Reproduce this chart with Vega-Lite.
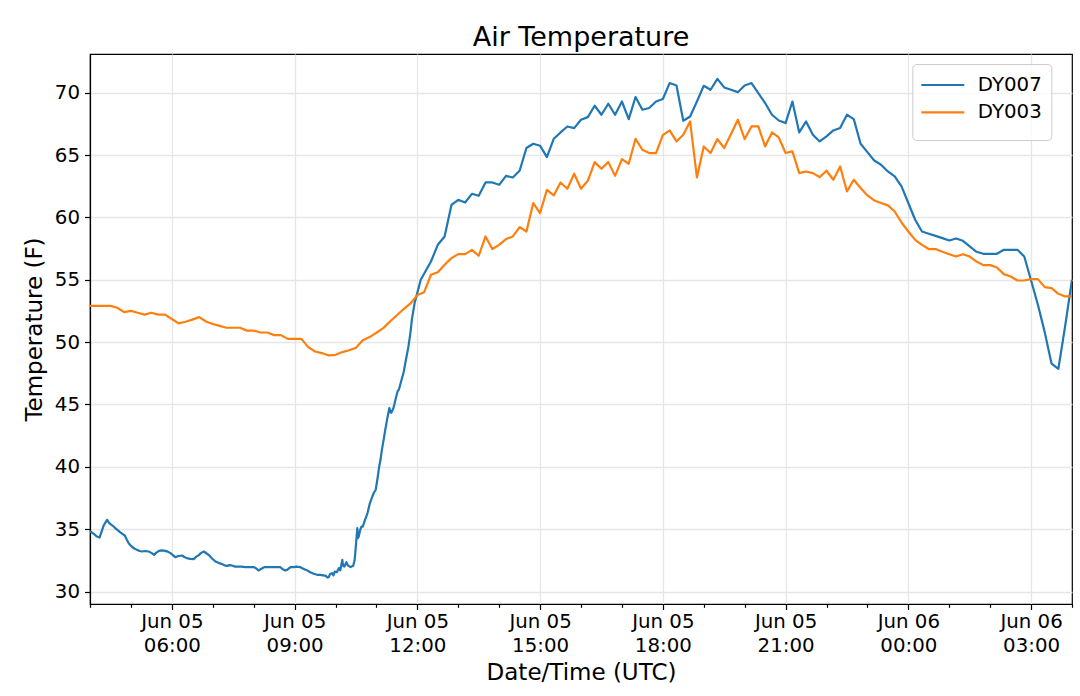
{
"$schema": "https://vega.github.io/schema/vega-lite/v6.json",
"width": 982, "height": 550,
"autosize": {"type": "none"},
"padding": {"left": 90, "top": 54, "right": 8, "bottom": 92},
"background": "white",
"title": {"text": "Air Temperature", "fontSize": 27, "fontWeight": "normal", "font": "DejaVu Sans", "color": "#000000", "anchor": "middle", "frame": "group", "baseline": "bottom", "offset": 3, "dy": 28},
"data": {"values": [
{"time":"2019-06-05T04:00:00Z","station":"DY007","temp":34.85},
{"time":"2019-06-05T04:06:00Z","station":"DY007","temp":34.6},
{"time":"2019-06-05T04:10:00Z","station":"DY007","temp":34.41},
{"time":"2019-06-05T04:14:00Z","station":"DY007","temp":34.33},
{"time":"2019-06-05T04:17:00Z","station":"DY007","temp":34.8},
{"time":"2019-06-05T04:20:00Z","station":"DY007","temp":35.29},
{"time":"2019-06-05T04:25:00Z","station":"DY007","temp":35.75},
{"time":"2019-06-05T04:28:00Z","station":"DY007","temp":35.5},
{"time":"2019-06-05T04:30:00Z","station":"DY007","temp":35.4},
{"time":"2019-06-05T04:34:00Z","station":"DY007","temp":35.25},
{"time":"2019-06-05T04:37:00Z","station":"DY007","temp":35.08},
{"time":"2019-06-05T04:41:00Z","station":"DY007","temp":34.9},
{"time":"2019-06-05T04:44:00Z","station":"DY007","temp":34.76},
{"time":"2019-06-05T04:48:00Z","station":"DY007","temp":34.6},
{"time":"2019-06-05T04:51:00Z","station":"DY007","temp":34.49},
{"time":"2019-06-05T04:54:00Z","station":"DY007","temp":34.15},
{"time":"2019-06-05T04:57:00Z","station":"DY007","temp":33.85},
{"time":"2019-06-05T05:01:00Z","station":"DY007","temp":33.61},
{"time":"2019-06-05T05:05:00Z","station":"DY007","temp":33.45},
{"time":"2019-06-05T05:09:00Z","station":"DY007","temp":33.34},
{"time":"2019-06-05T05:13:00Z","station":"DY007","temp":33.25},
{"time":"2019-06-05T05:16:00Z","station":"DY007","temp":33.21},
{"time":"2019-06-05T05:21:00Z","station":"DY007","temp":33.25},
{"time":"2019-06-05T05:26:00Z","station":"DY007","temp":33.21},
{"time":"2019-06-05T05:30:00Z","station":"DY007","temp":33.1},
{"time":"2019-06-05T05:34:00Z","station":"DY007","temp":32.94},
{"time":"2019-06-05T05:37:00Z","station":"DY007","temp":33.1},
{"time":"2019-06-05T05:41:00Z","station":"DY007","temp":33.26},
{"time":"2019-06-05T05:46:00Z","station":"DY007","temp":33.3},
{"time":"2019-06-05T05:50:00Z","station":"DY007","temp":33.26},
{"time":"2019-06-05T05:54:00Z","station":"DY007","temp":33.2},
{"time":"2019-06-05T05:58:00Z","station":"DY007","temp":33.08},
{"time":"2019-06-05T06:02:00Z","station":"DY007","temp":32.9},
{"time":"2019-06-05T06:05:00Z","station":"DY007","temp":32.76},
{"time":"2019-06-05T06:10:00Z","station":"DY007","temp":32.85},
{"time":"2019-06-05T06:15:00Z","station":"DY007","temp":32.89},
{"time":"2019-06-05T06:19:00Z","station":"DY007","temp":32.75},
{"time":"2019-06-05T06:22:00Z","station":"DY007","temp":32.68},
{"time":"2019-06-05T06:27:00Z","station":"DY007","temp":32.62},
{"time":"2019-06-05T06:32:00Z","station":"DY007","temp":32.6},
{"time":"2019-06-05T06:36:00Z","station":"DY007","temp":32.8},
{"time":"2019-06-05T06:40:00Z","station":"DY007","temp":32.94},
{"time":"2019-06-05T06:43:00Z","station":"DY007","temp":33.1},
{"time":"2019-06-05T06:47:00Z","station":"DY007","temp":33.21},
{"time":"2019-06-05T06:51:00Z","station":"DY007","temp":33.05},
{"time":"2019-06-05T06:55:00Z","station":"DY007","temp":32.89},
{"time":"2019-06-05T06:59:00Z","station":"DY007","temp":32.65},
{"time":"2019-06-05T07:04:00Z","station":"DY007","temp":32.41},
{"time":"2019-06-05T07:09:00Z","station":"DY007","temp":32.28},
{"time":"2019-06-05T07:14:00Z","station":"DY007","temp":32.2},
{"time":"2019-06-05T07:17:00Z","station":"DY007","temp":32.1},
{"time":"2019-06-05T07:21:00Z","station":"DY007","temp":32.06},
{"time":"2019-06-05T07:25:00Z","station":"DY007","temp":32.12},
{"time":"2019-06-05T07:28:00Z","station":"DY007","temp":32.09},
{"time":"2019-06-05T07:33:00Z","station":"DY007","temp":32.0},
{"time":"2019-06-05T07:38:00Z","station":"DY007","temp":32.0},
{"time":"2019-06-05T07:42:00Z","station":"DY007","temp":32.0},
{"time":"2019-06-05T07:48:00Z","station":"DY007","temp":31.96},
{"time":"2019-06-05T07:54:00Z","station":"DY007","temp":31.96},
{"time":"2019-06-05T08:00:00Z","station":"DY007","temp":31.96},
{"time":"2019-06-05T08:04:00Z","station":"DY007","temp":31.85},
{"time":"2019-06-05T08:07:00Z","station":"DY007","temp":31.69},
{"time":"2019-06-05T08:12:00Z","station":"DY007","temp":31.85},
{"time":"2019-06-05T08:16:00Z","station":"DY007","temp":31.96},
{"time":"2019-06-05T08:20:00Z","station":"DY007","temp":31.96},
{"time":"2019-06-05T08:27:00Z","station":"DY007","temp":31.96},
{"time":"2019-06-05T08:33:00Z","station":"DY007","temp":31.96},
{"time":"2019-06-05T08:39:00Z","station":"DY007","temp":31.96},
{"time":"2019-06-05T08:42:00Z","station":"DY007","temp":31.8},
{"time":"2019-06-05T08:46:00Z","station":"DY007","temp":31.69},
{"time":"2019-06-05T08:49:00Z","station":"DY007","temp":31.74},
{"time":"2019-06-05T08:54:00Z","station":"DY007","temp":31.96},
{"time":"2019-06-05T08:59:00Z","station":"DY007","temp":31.96},
{"time":"2019-06-05T09:03:00Z","station":"DY007","temp":32.0},
{"time":"2019-06-05T09:08:00Z","station":"DY007","temp":31.96},
{"time":"2019-06-05T09:12:00Z","station":"DY007","temp":31.85},
{"time":"2019-06-05T09:16:00Z","station":"DY007","temp":31.74},
{"time":"2019-06-05T09:19:00Z","station":"DY007","temp":31.68},
{"time":"2019-06-05T09:23:00Z","station":"DY007","temp":31.55},
{"time":"2019-06-05T09:28:00Z","station":"DY007","temp":31.42},
{"time":"2019-06-05T09:33:00Z","station":"DY007","temp":31.34},
{"time":"2019-06-05T09:38:00Z","station":"DY007","temp":31.34},
{"time":"2019-06-05T09:42:00Z","station":"DY007","temp":31.3},
{"time":"2019-06-05T09:46:00Z","station":"DY007","temp":31.25},
{"time":"2019-06-05T09:48:00Z","station":"DY007","temp":31.12},
{"time":"2019-06-05T09:50:00Z","station":"DY007","temp":31.15},
{"time":"2019-06-05T09:52:00Z","station":"DY007","temp":31.4},
{"time":"2019-06-05T09:55:00Z","station":"DY007","temp":31.47},
{"time":"2019-06-05T09:57:00Z","station":"DY007","temp":31.3},
{"time":"2019-06-05T09:59:00Z","station":"DY007","temp":31.6},
{"time":"2019-06-05T10:02:00Z","station":"DY007","temp":31.55},
{"time":"2019-06-05T10:05:00Z","station":"DY007","temp":31.88},
{"time":"2019-06-05T10:07:00Z","station":"DY007","temp":31.7},
{"time":"2019-06-05T10:10:00Z","station":"DY007","temp":32.54},
{"time":"2019-06-05T10:11:00Z","station":"DY007","temp":32.1},
{"time":"2019-06-05T10:13:00Z","station":"DY007","temp":32.0},
{"time":"2019-06-05T10:16:00Z","station":"DY007","temp":32.35},
{"time":"2019-06-05T10:18:00Z","station":"DY007","temp":32.1},
{"time":"2019-06-05T10:22:00Z","station":"DY007","temp":31.96},
{"time":"2019-06-05T10:26:00Z","station":"DY007","temp":32.06},
{"time":"2019-06-05T10:28:00Z","station":"DY007","temp":32.5},
{"time":"2019-06-05T10:29:00Z","station":"DY007","temp":33.08},
{"time":"2019-06-05T10:32:00Z","station":"DY007","temp":35.08},
{"time":"2019-06-05T10:33:00Z","station":"DY007","temp":34.28},
{"time":"2019-06-05T10:34:00Z","station":"DY007","temp":34.4},
{"time":"2019-06-05T10:36:00Z","station":"DY007","temp":34.9},
{"time":"2019-06-05T10:38:00Z","station":"DY007","temp":35.21},
{"time":"2019-06-05T10:40:00Z","station":"DY007","temp":35.2},
{"time":"2019-06-05T10:43:00Z","station":"DY007","temp":35.7},
{"time":"2019-06-05T10:47:00Z","station":"DY007","temp":36.29},
{"time":"2019-06-05T10:50:00Z","station":"DY007","temp":37.0},
{"time":"2019-06-05T10:54:00Z","station":"DY007","temp":37.62},
{"time":"2019-06-05T10:56:00Z","station":"DY007","temp":37.9},
{"time":"2019-06-05T10:59:00Z","station":"DY007","temp":38.16},
{"time":"2019-06-05T11:02:00Z","station":"DY007","temp":39.2},
{"time":"2019-06-05T11:04:00Z","station":"DY007","temp":40.0},
{"time":"2019-06-05T11:06:00Z","station":"DY007","temp":40.56},
{"time":"2019-06-05T11:08:00Z","station":"DY007","temp":41.36},
{"time":"2019-06-05T11:11:00Z","station":"DY007","temp":42.3},
{"time":"2019-06-05T11:13:00Z","station":"DY007","temp":42.97},
{"time":"2019-06-05T11:16:00Z","station":"DY007","temp":43.9},
{"time":"2019-06-05T11:19:00Z","station":"DY007","temp":44.71},
{"time":"2019-06-05T11:21:00Z","station":"DY007","temp":44.35},
{"time":"2019-06-05T11:22:00Z","station":"DY007","temp":44.35},
{"time":"2019-06-05T11:25:00Z","station":"DY007","temp":44.71},
{"time":"2019-06-05T11:28:00Z","station":"DY007","temp":45.4},
{"time":"2019-06-05T11:31:00Z","station":"DY007","temp":46.04},
{"time":"2019-06-05T11:33:00Z","station":"DY007","temp":46.2},
{"time":"2019-06-05T11:36:00Z","station":"DY007","temp":46.8},
{"time":"2019-06-05T11:40:00Z","station":"DY007","temp":47.6},
{"time":"2019-06-05T11:43:00Z","station":"DY007","temp":48.5},
{"time":"2019-06-05T11:47:00Z","station":"DY007","temp":49.65},
{"time":"2019-06-05T11:50:00Z","station":"DY007","temp":50.8},
{"time":"2019-06-05T11:52:00Z","station":"DY007","temp":51.8},
{"time":"2019-06-05T11:56:00Z","station":"DY007","temp":53.13},
{"time":"2019-06-05T12:05:00Z","station":"DY007","temp":55.0},
{"time":"2019-06-05T12:20:00Z","station":"DY007","temp":56.46},
{"time":"2019-06-05T12:30:00Z","station":"DY007","temp":57.8},
{"time":"2019-06-05T12:40:00Z","station":"DY007","temp":58.47},
{"time":"2019-06-05T12:50:00Z","station":"DY007","temp":61.0},
{"time":"2019-06-05T13:00:00Z","station":"DY007","temp":61.41},
{"time":"2019-06-05T13:10:00Z","station":"DY007","temp":61.19},
{"time":"2019-06-05T13:20:00Z","station":"DY007","temp":61.89},
{"time":"2019-06-05T13:30:00Z","station":"DY007","temp":61.73},
{"time":"2019-06-05T13:40:00Z","station":"DY007","temp":62.8},
{"time":"2019-06-05T13:50:00Z","station":"DY007","temp":62.8},
{"time":"2019-06-05T14:00:00Z","station":"DY007","temp":62.61},
{"time":"2019-06-05T14:10:00Z","station":"DY007","temp":63.33},
{"time":"2019-06-05T14:20:00Z","station":"DY007","temp":63.2},
{"time":"2019-06-05T14:30:00Z","station":"DY007","temp":63.74},
{"time":"2019-06-05T14:40:00Z","station":"DY007","temp":65.56},
{"time":"2019-06-05T14:50:00Z","station":"DY007","temp":65.9},
{"time":"2019-06-05T15:00:00Z","station":"DY007","temp":65.74},
{"time":"2019-06-05T15:10:00Z","station":"DY007","temp":64.83},
{"time":"2019-06-05T15:20:00Z","station":"DY007","temp":66.3},
{"time":"2019-06-05T15:30:00Z","station":"DY007","temp":66.81},
{"time":"2019-06-05T15:40:00Z","station":"DY007","temp":67.29},
{"time":"2019-06-05T15:50:00Z","station":"DY007","temp":67.16},
{"time":"2019-06-05T16:00:00Z","station":"DY007","temp":67.83},
{"time":"2019-06-05T16:10:00Z","station":"DY007","temp":68.04},
{"time":"2019-06-05T16:20:00Z","station":"DY007","temp":68.95},
{"time":"2019-06-05T16:30:00Z","station":"DY007","temp":68.23},
{"time":"2019-06-05T16:40:00Z","station":"DY007","temp":69.11},
{"time":"2019-06-05T16:50:00Z","station":"DY007","temp":68.23},
{"time":"2019-06-05T17:00:00Z","station":"DY007","temp":69.29},
{"time":"2019-06-05T17:10:00Z","station":"DY007","temp":67.88},
{"time":"2019-06-05T17:20:00Z","station":"DY007","temp":69.65},
{"time":"2019-06-05T17:30:00Z","station":"DY007","temp":68.63},
{"time":"2019-06-05T17:40:00Z","station":"DY007","temp":68.77},
{"time":"2019-06-05T17:50:00Z","station":"DY007","temp":69.29},
{"time":"2019-06-05T18:00:00Z","station":"DY007","temp":69.49},
{"time":"2019-06-05T18:10:00Z","station":"DY007","temp":70.77},
{"time":"2019-06-05T18:20:00Z","station":"DY007","temp":70.58},
{"time":"2019-06-05T18:30:00Z","station":"DY007","temp":67.75},
{"time":"2019-06-05T18:40:00Z","station":"DY007","temp":68.09},
{"time":"2019-06-05T18:50:00Z","station":"DY007","temp":69.29},
{"time":"2019-06-05T19:00:00Z","station":"DY007","temp":70.55},
{"time":"2019-06-05T19:10:00Z","station":"DY007","temp":70.23},
{"time":"2019-06-05T19:20:00Z","station":"DY007","temp":71.11},
{"time":"2019-06-05T19:30:00Z","station":"DY007","temp":70.42},
{"time":"2019-06-05T19:40:00Z","station":"DY007","temp":70.23},
{"time":"2019-06-05T19:50:00Z","station":"DY007","temp":70.04},
{"time":"2019-06-05T20:00:00Z","station":"DY007","temp":70.58},
{"time":"2019-06-05T20:10:00Z","station":"DY007","temp":70.77},
{"time":"2019-06-05T20:20:00Z","station":"DY007","temp":69.97},
{"time":"2019-06-05T20:30:00Z","station":"DY007","temp":69.17},
{"time":"2019-06-05T20:40:00Z","station":"DY007","temp":68.23},
{"time":"2019-06-05T20:50:00Z","station":"DY007","temp":67.77},
{"time":"2019-06-05T21:00:00Z","station":"DY007","temp":67.56},
{"time":"2019-06-05T21:10:00Z","station":"DY007","temp":69.29},
{"time":"2019-06-05T21:20:00Z","station":"DY007","temp":66.81},
{"time":"2019-06-05T21:30:00Z","station":"DY007","temp":67.69},
{"time":"2019-06-05T21:40:00Z","station":"DY007","temp":66.62},
{"time":"2019-06-05T21:50:00Z","station":"DY007","temp":66.09},
{"time":"2019-06-05T22:00:00Z","station":"DY007","temp":66.49},
{"time":"2019-06-05T22:10:00Z","station":"DY007","temp":66.97},
{"time":"2019-06-05T22:20:00Z","station":"DY007","temp":67.16},
{"time":"2019-06-05T22:30:00Z","station":"DY007","temp":68.23},
{"time":"2019-06-05T22:40:00Z","station":"DY007","temp":67.88},
{"time":"2019-06-05T22:50:00Z","station":"DY007","temp":65.9},
{"time":"2019-06-05T23:00:00Z","station":"DY007","temp":65.23},
{"time":"2019-06-05T23:10:00Z","station":"DY007","temp":64.56},
{"time":"2019-06-05T23:20:00Z","station":"DY007","temp":64.22},
{"time":"2019-06-05T23:30:00Z","station":"DY007","temp":63.68},
{"time":"2019-06-05T23:40:00Z","station":"DY007","temp":63.28},
{"time":"2019-06-05T23:50:00Z","station":"DY007","temp":62.48},
{"time":"2019-06-06T00:00:00Z","station":"DY007","temp":61.15},
{"time":"2019-06-06T00:10:00Z","station":"DY007","temp":59.81},
{"time":"2019-06-06T00:20:00Z","station":"DY007","temp":58.87},
{"time":"2019-06-06T00:30:00Z","station":"DY007","temp":58.69},
{"time":"2019-06-06T00:40:00Z","station":"DY007","temp":58.52},
{"time":"2019-06-06T00:50:00Z","station":"DY007","temp":58.34},
{"time":"2019-06-06T01:00:00Z","station":"DY007","temp":58.15},
{"time":"2019-06-06T01:10:00Z","station":"DY007","temp":58.31},
{"time":"2019-06-06T01:20:00Z","station":"DY007","temp":58.12},
{"time":"2019-06-06T01:30:00Z","station":"DY007","temp":57.67},
{"time":"2019-06-06T01:40:00Z","station":"DY007","temp":57.24},
{"time":"2019-06-06T01:50:00Z","station":"DY007","temp":57.08},
{"time":"2019-06-06T02:00:00Z","station":"DY007","temp":57.08},
{"time":"2019-06-06T02:10:00Z","station":"DY007","temp":57.08},
{"time":"2019-06-06T02:20:00Z","station":"DY007","temp":57.4},
{"time":"2019-06-06T02:30:00Z","station":"DY007","temp":57.4},
{"time":"2019-06-06T02:40:00Z","station":"DY007","temp":57.4},
{"time":"2019-06-06T02:50:00Z","station":"DY007","temp":56.86},
{"time":"2019-06-06T03:00:00Z","station":"DY007","temp":54.94},
{"time":"2019-06-06T03:10:00Z","station":"DY007","temp":53.0},
{"time":"2019-06-06T03:20:00Z","station":"DY007","temp":50.8},
{"time":"2019-06-06T03:30:00Z","station":"DY007","temp":48.27},
{"time":"2019-06-06T03:40:00Z","station":"DY007","temp":47.85},
{"time":"2019-06-06T03:50:00Z","station":"DY007","temp":51.3},
{"time":"2019-06-06T04:00:00Z","station":"DY007","temp":55.0},
{"time":"2019-06-05T04:00:00Z","station":"DY003","temp":52.9},
{"time":"2019-06-05T04:10:00Z","station":"DY003","temp":52.9},
{"time":"2019-06-05T04:20:00Z","station":"DY003","temp":52.9},
{"time":"2019-06-05T04:30:00Z","station":"DY003","temp":52.9},
{"time":"2019-06-05T04:40:00Z","station":"DY003","temp":52.75},
{"time":"2019-06-05T04:50:00Z","station":"DY003","temp":52.4},
{"time":"2019-06-05T05:00:00Z","station":"DY003","temp":52.5},
{"time":"2019-06-05T05:10:00Z","station":"DY003","temp":52.35},
{"time":"2019-06-05T05:20:00Z","station":"DY003","temp":52.2},
{"time":"2019-06-05T05:30:00Z","station":"DY003","temp":52.35},
{"time":"2019-06-05T05:40:00Z","station":"DY003","temp":52.2},
{"time":"2019-06-05T05:50:00Z","station":"DY003","temp":52.2},
{"time":"2019-06-05T06:00:00Z","station":"DY003","temp":51.85},
{"time":"2019-06-05T06:10:00Z","station":"DY003","temp":51.5},
{"time":"2019-06-05T06:20:00Z","station":"DY003","temp":51.63},
{"time":"2019-06-05T06:30:00Z","station":"DY003","temp":51.8},
{"time":"2019-06-05T06:40:00Z","station":"DY003","temp":52.0},
{"time":"2019-06-05T06:50:00Z","station":"DY003","temp":51.65},
{"time":"2019-06-05T07:00:00Z","station":"DY003","temp":51.45},
{"time":"2019-06-05T07:10:00Z","station":"DY003","temp":51.3},
{"time":"2019-06-05T07:20:00Z","station":"DY003","temp":51.15},
{"time":"2019-06-05T07:30:00Z","station":"DY003","temp":51.15},
{"time":"2019-06-05T07:40:00Z","station":"DY003","temp":51.15},
{"time":"2019-06-05T07:50:00Z","station":"DY003","temp":50.92},
{"time":"2019-06-05T08:00:00Z","station":"DY003","temp":50.92},
{"time":"2019-06-05T08:10:00Z","station":"DY003","temp":50.77},
{"time":"2019-06-05T08:20:00Z","station":"DY003","temp":50.77},
{"time":"2019-06-05T08:30:00Z","station":"DY003","temp":50.56},
{"time":"2019-06-05T08:40:00Z","station":"DY003","temp":50.56},
{"time":"2019-06-05T08:50:00Z","station":"DY003","temp":50.26},
{"time":"2019-06-05T09:00:00Z","station":"DY003","temp":50.26},
{"time":"2019-06-05T09:10:00Z","station":"DY003","temp":50.26},
{"time":"2019-06-05T09:20:00Z","station":"DY003","temp":49.6},
{"time":"2019-06-05T09:30:00Z","station":"DY003","temp":49.25},
{"time":"2019-06-05T09:40:00Z","station":"DY003","temp":49.12},
{"time":"2019-06-05T09:50:00Z","station":"DY003","temp":48.93},
{"time":"2019-06-05T10:00:00Z","station":"DY003","temp":48.98},
{"time":"2019-06-05T10:10:00Z","station":"DY003","temp":49.2},
{"time":"2019-06-05T10:20:00Z","station":"DY003","temp":49.35},
{"time":"2019-06-05T10:30:00Z","station":"DY003","temp":49.55},
{"time":"2019-06-05T10:40:00Z","station":"DY003","temp":50.15},
{"time":"2019-06-05T10:50:00Z","station":"DY003","temp":50.4},
{"time":"2019-06-05T11:00:00Z","station":"DY003","temp":50.75},
{"time":"2019-06-05T11:10:00Z","station":"DY003","temp":51.12},
{"time":"2019-06-05T11:20:00Z","station":"DY003","temp":51.65},
{"time":"2019-06-05T11:30:00Z","station":"DY003","temp":52.15},
{"time":"2019-06-05T11:40:00Z","station":"DY003","temp":52.65},
{"time":"2019-06-05T11:50:00Z","station":"DY003","temp":53.1},
{"time":"2019-06-05T12:00:00Z","station":"DY003","temp":53.77},
{"time":"2019-06-05T12:10:00Z","station":"DY003","temp":54.0},
{"time":"2019-06-05T12:20:00Z","station":"DY003","temp":55.4},
{"time":"2019-06-05T12:30:00Z","station":"DY003","temp":55.6},
{"time":"2019-06-05T12:40:00Z","station":"DY003","temp":56.2},
{"time":"2019-06-05T12:50:00Z","station":"DY003","temp":56.73},
{"time":"2019-06-05T13:00:00Z","station":"DY003","temp":57.05},
{"time":"2019-06-05T13:10:00Z","station":"DY003","temp":57.05},
{"time":"2019-06-05T13:20:00Z","station":"DY003","temp":57.4},
{"time":"2019-06-05T13:30:00Z","station":"DY003","temp":56.92},
{"time":"2019-06-05T13:40:00Z","station":"DY003","temp":58.47},
{"time":"2019-06-05T13:50:00Z","station":"DY003","temp":57.46},
{"time":"2019-06-05T14:00:00Z","station":"DY003","temp":57.8},
{"time":"2019-06-05T14:10:00Z","station":"DY003","temp":58.26},
{"time":"2019-06-05T14:20:00Z","station":"DY003","temp":58.47},
{"time":"2019-06-05T14:30:00Z","station":"DY003","temp":59.22},
{"time":"2019-06-05T14:40:00Z","station":"DY003","temp":58.87},
{"time":"2019-06-05T14:50:00Z","station":"DY003","temp":61.15},
{"time":"2019-06-05T15:00:00Z","station":"DY003","temp":60.35},
{"time":"2019-06-05T15:10:00Z","station":"DY003","temp":62.21},
{"time":"2019-06-05T15:20:00Z","station":"DY003","temp":61.76},
{"time":"2019-06-05T15:30:00Z","station":"DY003","temp":62.8},
{"time":"2019-06-05T15:40:00Z","station":"DY003","temp":62.29},
{"time":"2019-06-05T15:50:00Z","station":"DY003","temp":63.5},
{"time":"2019-06-05T16:00:00Z","station":"DY003","temp":62.29},
{"time":"2019-06-05T16:10:00Z","station":"DY003","temp":62.93},
{"time":"2019-06-05T16:20:00Z","station":"DY003","temp":64.43},
{"time":"2019-06-05T16:30:00Z","station":"DY003","temp":63.9},
{"time":"2019-06-05T16:40:00Z","station":"DY003","temp":64.43},
{"time":"2019-06-05T16:50:00Z","station":"DY003","temp":63.33},
{"time":"2019-06-05T17:00:00Z","station":"DY003","temp":64.67},
{"time":"2019-06-05T17:10:00Z","station":"DY003","temp":64.3},
{"time":"2019-06-05T17:20:00Z","station":"DY003","temp":66.3},
{"time":"2019-06-05T17:30:00Z","station":"DY003","temp":65.42},
{"time":"2019-06-05T17:40:00Z","station":"DY003","temp":65.16},
{"time":"2019-06-05T17:50:00Z","station":"DY003","temp":65.16},
{"time":"2019-06-05T18:00:00Z","station":"DY003","temp":66.6},
{"time":"2019-06-05T18:10:00Z","station":"DY003","temp":66.97},
{"time":"2019-06-05T18:20:00Z","station":"DY003","temp":66.09},
{"time":"2019-06-05T18:30:00Z","station":"DY003","temp":66.62},
{"time":"2019-06-05T18:40:00Z","station":"DY003","temp":67.69},
{"time":"2019-06-05T18:50:00Z","station":"DY003","temp":63.2},
{"time":"2019-06-05T19:00:00Z","station":"DY003","temp":65.69},
{"time":"2019-06-05T19:10:00Z","station":"DY003","temp":65.16},
{"time":"2019-06-05T19:20:00Z","station":"DY003","temp":66.28},
{"time":"2019-06-05T19:30:00Z","station":"DY003","temp":65.56},
{"time":"2019-06-05T19:40:00Z","station":"DY003","temp":66.68},
{"time":"2019-06-05T19:50:00Z","station":"DY003","temp":67.83},
{"time":"2019-06-05T20:00:00Z","station":"DY003","temp":66.28},
{"time":"2019-06-05T20:10:00Z","station":"DY003","temp":67.29},
{"time":"2019-06-05T20:20:00Z","station":"DY003","temp":67.29},
{"time":"2019-06-05T20:30:00Z","station":"DY003","temp":65.69},
{"time":"2019-06-05T20:40:00Z","station":"DY003","temp":66.81},
{"time":"2019-06-05T20:50:00Z","station":"DY003","temp":66.41},
{"time":"2019-06-05T21:00:00Z","station":"DY003","temp":65.16},
{"time":"2019-06-05T21:10:00Z","station":"DY003","temp":65.29},
{"time":"2019-06-05T21:20:00Z","station":"DY003","temp":63.55},
{"time":"2019-06-05T21:30:00Z","station":"DY003","temp":63.68},
{"time":"2019-06-05T21:40:00Z","station":"DY003","temp":63.55},
{"time":"2019-06-05T21:50:00Z","station":"DY003","temp":63.23},
{"time":"2019-06-05T22:00:00Z","station":"DY003","temp":63.74},
{"time":"2019-06-05T22:10:00Z","station":"DY003","temp":63.02},
{"time":"2019-06-05T22:20:00Z","station":"DY003","temp":64.08},
{"time":"2019-06-05T22:30:00Z","station":"DY003","temp":62.08},
{"time":"2019-06-05T22:40:00Z","station":"DY003","temp":63.02},
{"time":"2019-06-05T22:50:00Z","station":"DY003","temp":62.35},
{"time":"2019-06-05T23:00:00Z","station":"DY003","temp":61.76},
{"time":"2019-06-05T23:10:00Z","station":"DY003","temp":61.36},
{"time":"2019-06-05T23:20:00Z","station":"DY003","temp":61.15},
{"time":"2019-06-05T23:30:00Z","station":"DY003","temp":60.96},
{"time":"2019-06-05T23:40:00Z","station":"DY003","temp":60.47},
{"time":"2019-06-05T23:50:00Z","station":"DY003","temp":59.59},
{"time":"2019-06-06T00:00:00Z","station":"DY003","temp":58.87},
{"time":"2019-06-06T00:10:00Z","station":"DY003","temp":58.2},
{"time":"2019-06-06T00:20:00Z","station":"DY003","temp":57.8},
{"time":"2019-06-06T00:30:00Z","station":"DY003","temp":57.46},
{"time":"2019-06-06T00:40:00Z","station":"DY003","temp":57.46},
{"time":"2019-06-06T00:50:00Z","station":"DY003","temp":57.24},
{"time":"2019-06-06T01:00:00Z","station":"DY003","temp":57.05},
{"time":"2019-06-06T01:10:00Z","station":"DY003","temp":56.86},
{"time":"2019-06-06T01:20:00Z","station":"DY003","temp":57.05},
{"time":"2019-06-06T01:30:00Z","station":"DY003","temp":56.86},
{"time":"2019-06-06T01:40:00Z","station":"DY003","temp":56.46},
{"time":"2019-06-06T01:50:00Z","station":"DY003","temp":56.17},
{"time":"2019-06-06T02:00:00Z","station":"DY003","temp":56.17},
{"time":"2019-06-06T02:10:00Z","station":"DY003","temp":55.98},
{"time":"2019-06-06T02:20:00Z","station":"DY003","temp":55.45},
{"time":"2019-06-06T02:30:00Z","station":"DY003","temp":55.26},
{"time":"2019-06-06T02:40:00Z","station":"DY003","temp":54.94},
{"time":"2019-06-06T02:50:00Z","station":"DY003","temp":54.94},
{"time":"2019-06-06T03:00:00Z","station":"DY003","temp":55.05},
{"time":"2019-06-06T03:10:00Z","station":"DY003","temp":55.05},
{"time":"2019-06-06T03:20:00Z","station":"DY003","temp":54.41},
{"time":"2019-06-06T03:30:00Z","station":"DY003","temp":54.33},
{"time":"2019-06-06T03:40:00Z","station":"DY003","temp":53.87},
{"time":"2019-06-06T03:50:00Z","station":"DY003","temp":53.66},
{"time":"2019-06-06T04:00:00Z","station":"DY003","temp":53.66}
]},
"mark": {"type": "line", "strokeWidth": 2.2, "clip": true, "strokeJoin": "round"},
"encoding": {
  "x": {"field": "time", "type": "temporal",
    "scale": {"type": "utc", "domain": [1559707200000, 1559793600000], "nice": false},
    "axis": {"title": "Date/Time (UTC)",
      "values": [1559707200000,1559710800000,1559714400000,1559718000000,1559721600000,1559725200000,1559728800000,1559732400000,1559736000000,1559739600000,1559743200000,1559746800000,1559750400000,1559754000000,1559757600000,1559761200000,1559764800000,1559768400000,1559772000000,1559775600000,1559779200000,1559782800000,1559786400000,1559790000000,1559793600000],
      "labelExpr": "utchours(datum.value) % 3 === 0 ? [utcFormat(datum.value, '%b %d'), utcFormat(datum.value, '%H:%M')] : ''",
      "tickSize": {"condition": {"test": "utchours(datum.value) % 3 === 0", "value": 5.5}, "value": 3.3},
      "gridOpacity": {"condition": {"test": "utchours(datum.value) % 3 === 0", "value": 1}, "value": 0},
      "labelPadding": 2.2, "labelLineHeight": 23.7, "titlePadding": 6,
      "labelFlush": false, "labelOverlap": false, "labelBound": false}},
  "y": {"field": "temp", "type": "quantitative",
    "scale": {"domain": [29.0, 73.1], "nice": false, "zero": false},
    "axis": {"title": "Temperature (F)", "values": [30,35,40,45,50,55,60,65,70], "tickSize": 5.5, "labelPadding": 5, "titlePadding": 8}},
  "color": {"field": "station", "type": "nominal",
    "scale": {"domain": ["DY007", "DY003"], "range": ["#1f77b4", "#ff7f0e"]},
    "legend": {"title": "\u00a0", "titleOrient": "bottom", "titleFontSize": 8, "titlePadding": 1,
      "orient": "none", "legendX": 822.3, "legendY": 10,
      "symbolType": "M-2,0H2", "symbolSize": 462, "symbolStrokeWidth": 2.2, "symbolOffset": 9.5,
      "labelFontSize": 19.8, "labelFont": "DejaVu Sans", "labelColor": "#000000", "labelOffset": 23,
      "rowPadding": 5.4, "padding": 9,
      "fillColor": "rgba(255,255,255,0.8)", "strokeColor": "#cccccc", "cornerRadius": 4,
      "labelExpr": "datum.label + '\u00a0\u00a0\u2009'"}}
},
"config": {
  "font": "DejaVu Sans",
  "view": {"stroke": "#000000", "strokeWidth": 1.2},
  "axis": {"domainColor": "#000000", "domainWidth": 1.2, "tickColor": "#000000", "tickWidth": 1.2,
    "labelFont": "DejaVu Sans", "labelFontSize": 19.8, "labelColor": "#000000",
    "titleFont": "DejaVu Sans", "titleFontSize": 23, "titleFontWeight": "normal", "titleColor": "#000000",
    "gridColor": "#e6e6e6", "gridWidth": 1.3}
}
}
